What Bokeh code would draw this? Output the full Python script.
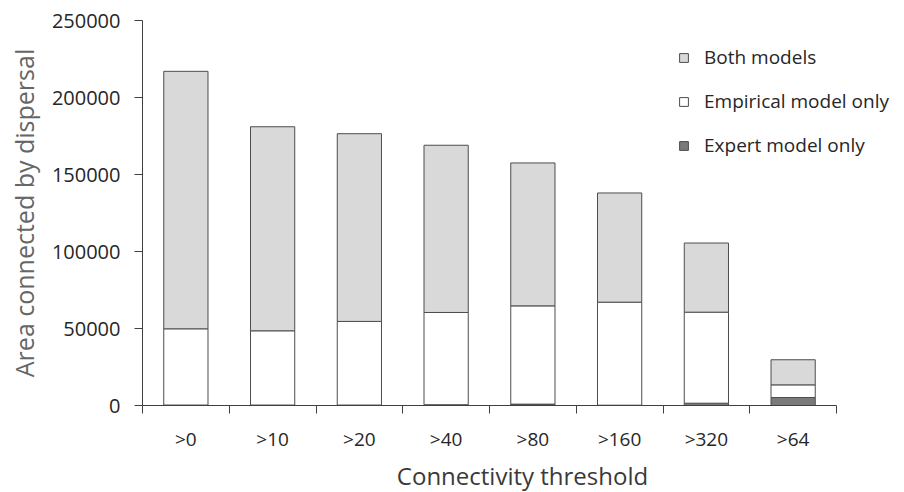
from bokeh.plotting import figure
from bokeh.models import ColumnDataSource, FixedTicker, Range1d, Legend, LegendItem
from bokeh.embed import file_html
from bokeh.resources import INLINE

categories = [">0", ">10", ">20", ">40", ">80", ">160", ">320", ">64"]
total_area = [217000, 181000, 176500, 169000, 157500, 138000, 105500, 29700]
empirical_top = [49800, 48500, 54600, 60400, 64700, 67100, 60600, 13400]
expert_only = [300, 300, 300, 500, 900, 200, 1500, 5200]
y_ticks = [0, 50000, 100000, 150000, 200000, 250000]

empirical_only = [e - x for e, x in zip(empirical_top, expert_only)]
both_models = [t - e for t, e in zip(total_area, empirical_top)]
xpos = [i + 0.5 for i in range(len(categories))]

src = ColumnDataSource(dict(x=xpos, expert=expert_only, empirical=empirical_only, both=both_models))

FONT = "Open Sans"
n = len(categories)
p = figure(frame_width=760, frame_height=385, output_backend="svg", toolbar_location=None,
           x_range=Range1d(0, 760 / 86.75), y_range=Range1d(0, 250000),
           min_border_left=142, min_border_right=1, min_border_top=20, min_border_bottom=86)
p.outline_line_color = None
p.xgrid.grid_line_color = None
p.ygrid.grid_line_color = None

r = p.vbar_stack(["expert", "empirical", "both"], x="x", width=0.51, source=src,
                 fill_color=["#7a7a7a", "#ffffff", "#d9d9d9"], line_color="#4d4d4d", line_width=1)

# x axis
p.xaxis.bounds = (0, n)
p.xaxis.ticker = FixedTicker(ticks=xpos, minor_ticks=list(range(n + 1)))
p.xaxis.major_label_overrides = {x: c for x, c in zip(xpos, categories)}
p.xaxis.major_tick_line_color = None
p.xaxis.major_tick_out = 0
p.xaxis.major_tick_in = 0
p.xaxis.minor_tick_out = 8
p.xaxis.minor_tick_in = 0
p.xaxis.minor_tick_line_color = "#404040"
p.xaxis.axis_line_color = "#404040"
p.xaxis.major_label_text_font = FONT
p.xaxis.major_label_text_font_size = "19px"
p.xaxis.major_label_text_color = "#262626"
p.xaxis.major_label_standoff = 12
p.xaxis.axis_label = "Connectivity threshold"
p.xaxis.axis_label_text_font = FONT
p.xaxis.axis_label_text_font_style = "normal"
p.xaxis.axis_label_text_font_size = "24px"
p.xaxis.axis_label_text_color = "#3a3a3a"
p.xaxis.axis_label_standoff = 4

# y axis
p.yaxis.ticker = FixedTicker(ticks=y_ticks, minor_ticks=[])
p.yaxis.major_label_overrides = {v: str(v) for v in y_ticks}
p.yaxis.major_tick_out = 8
p.yaxis.major_tick_in = 0
p.yaxis.major_tick_line_color = "#404040"
p.yaxis.axis_line_color = "#404040"
p.yaxis.major_label_text_font = FONT
p.yaxis.major_label_text_font_size = "20px"
p.yaxis.major_label_text_color = "#262626"
p.yaxis.major_label_standoff = 14
p.yaxis.axis_label = "Area connected by dispersal"
p.yaxis.axis_label_text_font = FONT
p.yaxis.axis_label_text_font_style = "normal"
p.yaxis.axis_label_text_font_size = "25px"
p.yaxis.axis_label_text_color = "#666666"
p.yaxis.axis_label_standoff = 8

legend = Legend(items=[LegendItem(label="Both models", renderers=[r[2]]),
                       LegendItem(label="Empirical model only", renderers=[r[1]]),
                       LegendItem(label="Expert model only", renderers=[r[0]])],
                location=(536, 247), orientation="vertical")
legend.background_fill_alpha = 0
legend.border_line_color = None
legend.glyph_width = 11
legend.glyph_height = 11
legend.label_text_font = FONT
legend.label_text_font_size = "19px"
legend.label_text_color = "#262626"
legend.spacing = 18
legend.label_standoff = 15
legend.padding = 0
legend.margin = 0
p.add_layout(legend)

open("out.html", "w").write(file_html(p, INLINE))
